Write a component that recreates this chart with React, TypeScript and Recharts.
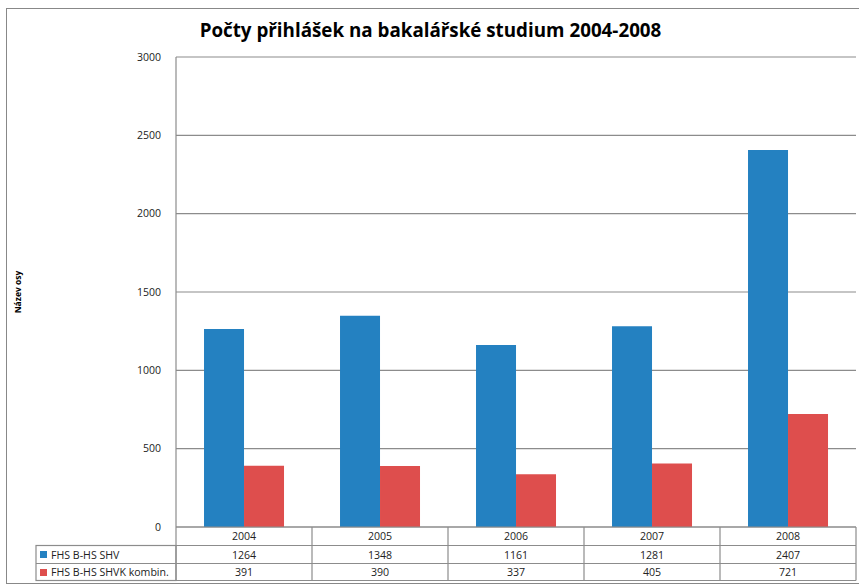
import React from 'react';
import { BarChart, Bar, XAxis, YAxis, CartesianGrid, Customized } from 'recharts';

const years = ['2004', '2005', '2006', '2007', '2008'];
const shv = [1264, 1348, 1161, 1281, 2407];
const shvk = [391, 390, 337, 405, 721];
const yTicks = [0, 500, 1000, 1500, 2000, 2500, 3000];
const seriesNames = ['FHS B-HS SHV', 'FHS B-HS SHVK kombin.'];
const title = 'Počty přihlášek na bakalářské studium 2004-2008';
const yLabel = 'Název osy';

const BLUE = '#2481C1';
const RED = '#DE4E4D';
const GRID = '#8c8c8c';
const FONT = '"Open Sans", "Noto Sans", sans-serif';

const data = years.map((y, i) => ({ year: y, a: shv[i], b: shvk[i] }));

const W = 859;
const H = 585;
const PLOT_LEFT = 176;
const PLOT_RIGHT = 856;
const PLOT_BOTTOM = 527;
const ROW1 = 545.5;
const ROW2 = 563.5;
const TABLE_BOTTOM = 580.5;
const CELL_W = (PLOT_RIGHT - PLOT_LEFT) / years.length;
const TFS = 10.6;

const TableTick = (props: any) => {
  const { x, payload } = props;
  const i = payload.index;
  const l = x - CELL_W / 2;
  const r = x + CELL_W / 2;
  return (
    <g>
      <line x1={r} x2={r} y1={PLOT_BOTTOM} y2={TABLE_BOTTOM} stroke={GRID} strokeWidth={1.2} />
      <line x1={l} x2={r} y1={ROW1} y2={ROW1} stroke={GRID} strokeWidth={1.2} />
      <line x1={l} x2={r} y1={ROW2} y2={ROW2} stroke={GRID} strokeWidth={1.2} />
      <line x1={l} x2={r} y1={TABLE_BOTTOM} y2={TABLE_BOTTOM} stroke={GRID} strokeWidth={1.2} />
      <text x={x} y={540} textAnchor="middle" fontSize={TFS} fontFamily={FONT} fill="#222">{payload.value}</text>
      <text x={x} y={558.5} textAnchor="middle" fontSize={TFS} fontFamily={FONT} fill="#222">{shv[i]}</text>
      <text x={x} y={576} textAnchor="middle" fontSize={TFS} fontFamily={FONT} fill="#222">{shvk[i]}</text>
    </g>
  );
};

const Decor = () => (
  <g>
    <rect x={6.5} y={8.5} width={870} height={575} fill="none" stroke="#888" strokeWidth={1} />
    <text x={430.5} y={37} textAnchor="middle" fontSize={18.8} fontWeight="bold" fontFamily={FONT} fill="#000">{title}</text>
    <text x={0} y={0} transform="translate(21,292) rotate(-90)" textAnchor="middle" fontSize={8.5} fontWeight="bold" fontFamily={FONT} fill="#000">{yLabel}</text>
    <line x1={PLOT_LEFT} x2={PLOT_LEFT} y1={PLOT_BOTTOM} y2={TABLE_BOTTOM} stroke={GRID} strokeWidth={1.2} />
    <rect x={36} y={ROW1} width={PLOT_LEFT - 36} height={TABLE_BOTTOM - ROW1} fill="none" stroke={GRID} strokeWidth={1.2} />
    <line x1={36} x2={PLOT_LEFT} y1={ROW2} y2={ROW2} stroke={GRID} strokeWidth={1.2} />
    <rect x={40} y={551} width={7} height={7} fill={BLUE} />
    <text x={51} y={558.5} fontSize={TFS} fontFamily={FONT} fill="#222">{seriesNames[0]}</text>
    <rect x={40} y={569} width={7} height={7} fill={RED} />
    <text x={51} y={576} fontSize={TFS} fontFamily={FONT} fill="#222">{seriesNames[1]}</text>
  </g>
);

export default function App() {
  return (
    <div style={{ position: 'absolute', left: 0, top: 0, width: W, height: H, background: '#fff' }}>
      <BarChart
        width={W}
        height={H}
        data={data}
        margin={{ top: 57, right: W - PLOT_RIGHT, bottom: 5, left: 36 }}
        barCategoryGap="20.6%"
        barGap={0}
      >
        <CartesianGrid vertical={false} stroke={GRID} strokeWidth={1.2} />
        <XAxis
          dataKey="year"
          height={53}
          axisLine={{ stroke: GRID, strokeWidth: 1.2 }}
          tickLine={false}
          tick={<TableTick />}
          interval={0}
        />
        <YAxis
          width={140}
          domain={[0, 3000]}
          ticks={yTicks}
          axisLine={{ stroke: GRID, strokeWidth: 1.2 }}
          tickLine={false}
          tickMargin={9}
          tick={{ fontSize: 10.5, fontFamily: FONT, fill: '#222' }}
          interval={0}
        />
        <Bar dataKey="a" name={seriesNames[0]} fill={BLUE} isAnimationActive={false} />
        <Bar dataKey="b" name={seriesNames[1]} fill={RED} isAnimationActive={false} />
        <Customized component={Decor} />
      </BarChart>
    </div>
  );
}
